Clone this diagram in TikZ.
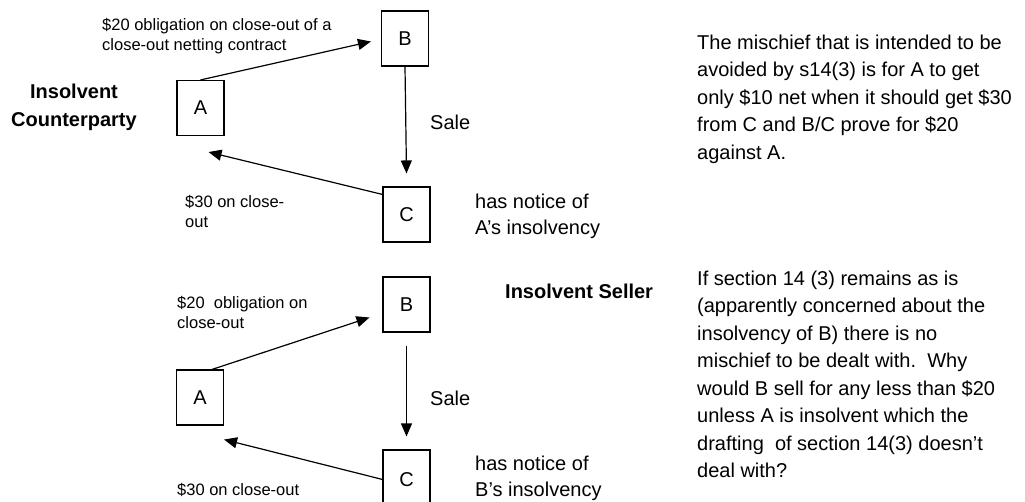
\documentclass[tikz,border=0pt]{standalone}
\usepackage{fontspec}
\setmainfont{Liberation Sans}
\usetikzlibrary{arrows.meta}
\tikzset{
  party/.style={draw,line width=1.1pt,minimum width=47pt,minimum height=55pt,
    inner sep=0pt,font=\fontsize{20}{24}\selectfont},
  flow/.style={line width=1.2pt,-{Triangle[length=13pt,width=11pt]}},
  small/.style={anchor=base west,inner sep=0pt,align=left,
    font=\fontsize{16.5}{20}\selectfont},
  plain/.style={anchor=base west,inner sep=0pt,align=left,
    font=\fontsize{20}{26}\selectfont},
  heading/.style={inner sep=0pt,font=\bfseries\fontsize{20}{28}\selectfont},
  note/.style={anchor=base west,inner sep=0pt,align=left,
    font=\fontsize{20}{27.5}\selectfont},
}
\begin{document}
\begin{tikzpicture}[x=1pt,y=-1pt]
\useasboundingbox (0,0) rectangle (1025,502);
\clip (0,0) rectangle (1025,502);

% insolvent counterparty
\node[party] (A1) at (200.5,108) {A};
\node[party] (B1) at (405,38.5) {B};
\node[party] (C1) at (406.5,214.5) {C};

\draw[flow] (A1.north) -- ([xshift=-10pt,yshift=-3pt]B1.west);
\draw[flow] (B1.south) -- ([yshift=13pt]C1.north);
\draw[flow] ([yshift=-8pt]C1.north west) -- ([xshift=8pt,yshift=-16pt]A1.south);

\node[heading,align=center,anchor=base] (cpty) at (74,127) {Insolvent\\Counterparty};
\node[small] (oblig1) at (102,50.5) {\$20 obligation on close-out of a\\close-out netting contract};
\node[small] (pay1) at (185,228) {\$30 on close-\\out};
\node[plain] (sale1) at (430,130) {Sale};
\node[plain] (notice1) at (475,235) {has notice of\\A's insolvency};

% insolvent seller
\node[party] (A2) at (200,397.5) {A};
\node[party] (B2) at (406.5,304.5) {B};
\node[party,minimum height=60pt] (C2) at (406.5,480) {C};

\draw[flow] ([xshift=12pt]A2.north) -- ([xshift=-13pt,yshift=-13pt]B2.west);
\draw[flow] ([yshift=-13pt]B2.south) -- ([yshift=13pt]C2.north);
\draw[flow] ([yshift=-30pt]C2.north west) -- ([yshift=-14pt]A2.south east);

\node[heading,anchor=base west] (seller) at (505,299) {Insolvent Seller};
\node[small] (oblig2) at (177,329) {\$20\ \ obligation on\\close-out};
\node[small] (pay2) at (177,495) {\$30 on close-out};
\node[plain] (sale2) at (430,405) {Sale};
\node[plain] (notice2) at (475,496) {has notice of\\B's insolvency};

% comments on the right
\node[note] (mischief) at (697,159.5) {The mischief that is intended to be\\avoided by s14(3) is for A to get\\only \$10 net when it should get \$30\\from C and B/C prove for \$20\\against A.};
\node[note] (section) at (697,477.5) {If section 14 (3) remains as is\\(apparently concerned about the\\insolvency of B) there is no\\mischief to be dealt with.\ \ Why\\would B sell for any less than \$20\\unless A is insolvent which the\\drafting\ \ of section 14(3) doesn't\\deal with?};
\end{tikzpicture}
\end{document}
